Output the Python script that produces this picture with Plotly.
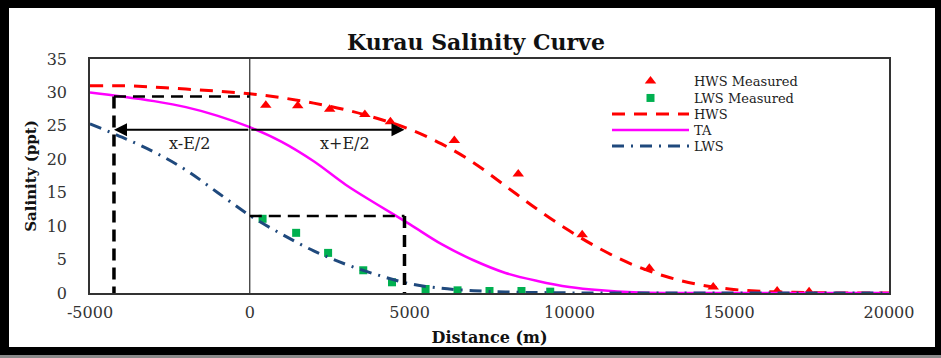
import plotly.graph_objects as go

# ---------------- data ----------------
curve_x = [-5000, -4000, -3000, -2000, -1000, 0, 1000, 2000, 3000, 4000, 5000,
           6000, 7000, 8000, 9000, 10000, 11000, 12000, 13000, 14000, 15000,
           16000, 17000, 18000, 19000, 20000]
hws_curve = [31.0, 31.0, 30.8, 30.5, 30.2, 29.8, 29.2, 28.4, 27.4, 26.1, 24.5,
             22.3, 19.5, 16.0, 12.5, 9.3, 6.5, 4.2, 2.5, 1.3, 0.6,
             0.25, 0.1, 0.03, 0.0, 0.0]
ta_curve = [30.0, 29.4, 28.7, 27.8, 26.5, 24.8, 22.6, 19.7, 16.2, 13.2, 10.3,
            7.3, 4.9, 3.0, 1.8, 0.9, 0.4, 0.1, 0.0, 0.0, 0.0,
            0.0, 0.0, 0.0, 0.0, 0.0]
lws_curve = [25.3, 23.3, 21.1, 18.4, 15.0, 11.6, 8.8, 6.3, 4.3, 2.7, 1.4,
             0.7, 0.35, 0.15, 0.07, 0.02, 0.0, 0.0, 0.0, 0.0, 0.0,
             0.0, 0.0, 0.0, 0.0, 0.0]

hws_meas_x = [500, 1500, 2500, 3600, 4400, 6400, 8400, 10400, 12500, 14500, 16500, 17500]
hws_meas_y = [28.1, 28.0, 27.5, 26.7, 25.6, 22.8, 17.8, 8.7, 3.7, 0.9, 0.3, 0.2]
lws_meas_x = [400, 1450, 2450, 3550, 4450, 5500, 6500, 7500, 8500, 9400]
lws_meas_y = [11.1, 9.0, 6.0, 3.4, 1.6, 0.6, 0.4, 0.3, 0.3, 0.2]

# excursion construction
x_left = -4250      # x - E/2
x_right = 4840      # x + E/2
s_left = 29.4       # TA at x - E/2 (HWS at 0)
s_right = 11.5      # TA at x + E/2 (LWS at 0)
s_arrow = 24.4      # TA at x = 0
label_left = "x-E/2"
label_right = "x+E/2"
label_pos_x = [-1900, 2970]
label_pos_y = [22.4, 22.4]

x_ticks = [-5000, 0, 5000, 10000, 15000, 20000]
x_ticktext = ["-5000", "0", "5000", "10000", "15000", "20000"]
y_ticks = [0, 5, 10, 15, 20, 25, 30, 35]

# ---------------- figure ----------------
W, H = 941, 358
L, R, T, B = 90, 52, 59, 65
pw, ph = W - L - R, H - T - B


def px_x(p):
    return (p - L) / pw


def px_y(p):
    return (H - B - p) / ph


FONT = "DejaVu Serif"
fig = go.Figure()

fig.add_trace(go.Scatter(x=hws_meas_x, y=hws_meas_y, mode="markers", name="HWS Measured",
                         legend="legend",
                         marker=dict(symbol="triangle-up", color="#ff0000", size=10)))
fig.add_trace(go.Scatter(x=lws_meas_x, y=lws_meas_y, mode="markers", name="LWS Measured",
                         legend="legend2",
                         marker=dict(symbol="square", color="#00b050", size=8)))
fig.add_trace(go.Scatter(x=curve_x, y=hws_curve, mode="lines", name="HWS", legend="legend3",
                         line=dict(color="#ff0000", width=3, dash="13px,9px", shape="spline")))
fig.add_trace(go.Scatter(x=curve_x, y=ta_curve, mode="lines", name="TA", legend="legend4",
                         line=dict(color="#ff00ff", width=2.5, shape="spline")))
fig.add_trace(go.Scatter(x=curve_x, y=lws_curve, mode="lines", name="LWS", legend="legend5",
                         line=dict(color="#1f497d", width=3, dash="12px,7px,2px,7px", shape="spline")))

# dashed construction lines
fig.add_trace(go.Scatter(x=[x_left, 0], y=[s_left, s_left], mode="lines", showlegend=False,
                         line=dict(color="black", width=2.5, dash="12px,7px"), hoverinfo="skip"))
fig.add_trace(go.Scatter(x=[x_left, x_left], y=[s_left, 0], mode="lines", showlegend=False,
                         line=dict(color="black", width=3.5, dash="12px,7px"), hoverinfo="skip"))
fig.add_trace(go.Scatter(x=[0, x_right], y=[s_right, s_right], mode="lines", showlegend=False,
                         line=dict(color="black", width=2.5, dash="12px,7px"), hoverinfo="skip"))
fig.add_trace(go.Scatter(x=[x_right, x_right], y=[s_right, 0], mode="lines", showlegend=False,
                         line=dict(color="black", width=3.5, dash="12px,7px"), hoverinfo="skip"))
# vertical axis line at x = 0
fig.add_trace(go.Scatter(x=[0, 0], y=[0, 35], mode="lines", showlegend=False,
                         line=dict(color="black", width=1), hoverinfo="skip"))

annotations = []
for xt in (x_left, x_right):
    annotations.append(dict(x=xt, y=s_arrow, ax=0, ay=s_arrow, xref="x", yref="y",
                            axref="x", ayref="y", showarrow=True, arrowhead=2,
                            arrowsize=1.3, arrowwidth=2, arrowcolor="black", text=""))
for t, xx, yy in zip([label_left, label_right], label_pos_x, label_pos_y):
    annotations.append(dict(x=xx, y=yy, xref="x", yref="y", text=t, showarrow=False,
                            font=dict(family=FONT, size=16, color="#222")))

shapes = [
    # outer black frame
    dict(type="rect", xref="paper", yref="paper", x0=px_x(0), x1=px_x(9), y0=px_y(358), y1=px_y(0),
         fillcolor="black", line_width=0, layer="above"),
    dict(type="rect", xref="paper", yref="paper", x0=px_x(0), x1=px_x(941), y0=px_y(8), y1=px_y(0),
         fillcolor="black", line_width=0, layer="above"),
    dict(type="rect", xref="paper", yref="paper", x0=px_x(935), x1=px_x(941), y0=px_y(358), y1=px_y(0),
         fillcolor="black", line_width=0, layer="above"),
    dict(type="rect", xref="paper", yref="paper", x0=px_x(0), x1=px_x(941), y0=px_y(355), y1=px_y(347),
         fillcolor="black", line_width=0, layer="above"),
    dict(type="rect", xref="paper", yref="paper", x0=px_x(0), x1=px_x(941), y0=px_y(358), y1=px_y(355),
         fillcolor="#8a8a8a", line_width=0, layer="above"),
]

legend_rows = [81, 98, 114, 130, 146]
legend_common = dict(x=px_x(607), xanchor="left", yanchor="middle",
                     font=dict(family=FONT, size=13, color="#222"), bgcolor="rgba(0,0,0,0)",
                     itemwidth=77, tracegroupgap=0)
legends = {}
for i, row in enumerate(legend_rows):
    key = "legend" if i == 0 else f"legend{i + 1}"
    legends[key] = dict(y=px_y(row), **legend_common)

fig.update_layout(
    width=W, height=H,
    margin=dict(l=L, r=R, t=T, b=B),
    paper_bgcolor="white", plot_bgcolor="white",
    title=dict(text="<b>Kurau Salinity Curve</b>", x=476 / W, xanchor="center",
               y=1 - 42 / H, yanchor="middle", font=dict(family=FONT, size=22, color="#111")),
    font=dict(family=FONT, size=15, color="#333"),
    xaxis=dict(range=[-5000, 20000], tickvals=x_ticks, ticktext=x_ticktext, ticks="",
               showgrid=False, zeroline=False,
               showline=True, linecolor="#333", linewidth=1.5, mirror=True,
               ticklabelstandoff=4,
               tickfont=dict(family=FONT, size=16, color="#333"),
               title=dict(text="<b>Distance (m)</b>", font=dict(family=FONT, size=16, color="#111"),
                          standoff=11)),
    yaxis=dict(range=[0, 35], tickvals=y_ticks, ticks="", showgrid=False, zeroline=False,
               showline=True, linecolor="#333", linewidth=1.5, mirror=True,
               ticklabelstandoff=18,
               tickfont=dict(family=FONT, size=16, color="#333"),
               title=dict(text="<b>Salinity (ppt)</b>", font=dict(family=FONT, size=15, color="#111"),
                          standoff=6)),
    annotations=annotations,
    shapes=shapes,
    showlegend=True,
    **legends,
)

fig.write_html("out.html")
